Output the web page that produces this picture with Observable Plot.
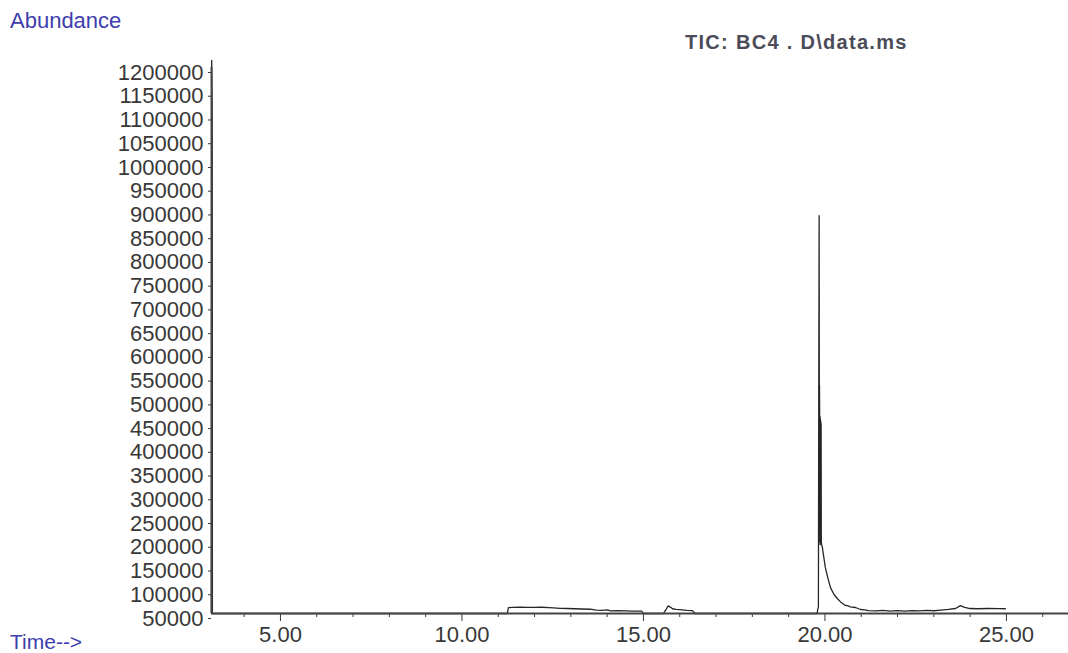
<!DOCTYPE html>
<html>
<head>
<meta charset="utf-8">
<script src="https://cdn.jsdelivr.net/npm/d3@7"></script>
<script src="https://cdn.jsdelivr.net/npm/@observablehq/plot@0.6"></script>
<style>
  html, body { margin: 0; padding: 0; background: #fff; }
  #wrap { position: relative; width: 1068px; height: 653px; overflow: hidden; }
  .lbl { position: absolute; white-space: nowrap; line-height: 1; font-family: "Liberation Sans", Arial, sans-serif; }
  #ylab { left: 10px; top: 10px; font-size: 22px; color: #3d3dae; }
  #xlab { left: 10px; top: 631px; font-size: 21px; color: #3d3dae; }
  #title { left: 685px; top: 32px; font-size: 20px; font-weight: bold; color: #4c4c58; letter-spacing: 1.3px; }
</style>
</head>
<body>
<div id="wrap">
  <div id="chart"></div>
  <div class="lbl" id="ylab">Abundance</div>
  <div class="lbl" id="xlab">Time--&gt;</div>
  <div class="lbl" id="title">TIC: BC4 . D\data.ms</div>
</div>
<script>
// Retention time (min)
const times = [
  3.10, 3.105, 3.115, 3.12, 3.125,
  11.25, 11.28, 11.4, 11.6, 11.8, 12.0, 12.2, 12.4, 12.52, 12.7, 12.9, 13.1, 13.3, 13.54,
  13.7, 13.85, 14.0, 14.1, 14.3, 14.5, 14.7, 14.95, 15.0,
  15.55, 15.62, 15.68, 15.75, 15.8, 15.9, 16.0, 16.2, 16.35, 16.42,
  19.78, 19.79, 19.80, 19.82, 19.83, 19.84, 19.845, 19.85, 19.855, 19.86, 19.865, 19.87,
  19.875, 19.88, 19.885, 19.89, 19.895, 19.90, 19.91, 19.93, 19.97,
  20.01, 20.08, 20.15, 20.25, 20.34, 20.45, 20.56, 20.62, 20.7, 20.84, 20.98,
  21.1, 21.2, 21.4, 21.6, 21.8, 22.0, 22.2, 22.4, 22.6, 22.8, 23.0, 23.2, 23.4, 23.6,
  23.73, 23.85, 24.0, 24.2, 24.5, 24.8, 24.97
];
// Abundance (TIC)
const abundance = [
  50000, 1215000, 1140000, 1100000, 50000,
  50000, 62500, 63000, 63500, 63000, 62800, 63200, 62500, 62000, 61000, 60500, 60000, 59500, 59000,
  57000, 56500, 57500, 55500, 56000, 55500, 55000, 55000, 50000,
  50000, 58000, 66000, 63000, 60000, 58500, 58000, 56500, 56000, 50000,
  50000, 53000, 58000, 64000, 530000, 888000, 470000, 530000, 460000, 200000, 465000, 195000,
  460000, 200000, 455000, 198000, 450000, 200000, 195000, 189000, 168000,
  147000, 125000, 105000, 90000, 81600, 73000, 67000, 66500, 64000, 62600, 58400,
  57500, 56000, 55500, 56500, 55000, 56000, 55200, 56200, 55500, 56500, 55800, 57000, 58500, 60500,
  66500, 63000, 60500, 60000, 60500, 60200, 60000
];
const yTicks = [50000, 100000, 150000, 200000, 250000, 300000, 350000, 400000, 450000, 500000,
  550000, 600000, 650000, 700000, 750000, 800000, 850000, 900000, 950000, 1000000,
  1050000, 1100000, 1150000, 1200000];
const xMajor = [5, 10, 15, 20, 25];
const xMinor = [4, 6, 7, 8, 9, 11, 12, 13, 14, 16, 17, 18, 19, 21, 22, 23, 24, 26];
const xDomain = [3.1, 26.71];
const yDomain = [50000, 1200000];

const data = times.map((t, i) => ({t, v: abundance[i]}));

const chart = Plot.plot({
  width: 1068,
  height: 653,
  marginLeft: 211,
  marginRight: 0,
  marginTop: 67,
  marginBottom: 40,
  x: {domain: xDomain},
  y: {domain: yDomain},
  style: {fontFamily: "'Liberation Sans', Arial, sans-serif", color: "#383838", background: "transparent"},
  marks: [
    Plot.axisY({ticks: yTicks, tickSize: 3, tickPadding: 5, tickFormat: d => String(d), fontSize: 22, dy: 5, label: null}),
    Plot.axisX({ticks: xMinor, tickSize: 4, tickFormat: () => "", label: null}),
    Plot.axisX({ticks: xMajor, tickSize: 8, tickPadding: 5, tickFormat: d => d.toFixed(2), fontSize: 22, label: null}),
    Plot.line(data, {x: "t", y: "v", stroke: "#262626", strokeWidth: 1.3}),
    Plot.ruleX([xDomain[0]], {stroke: "#444", strokeWidth: 2}),
    Plot.ruleY([yDomain[0]], {stroke: "#444", strokeWidth: 2})
  ]
});
document.getElementById("chart").appendChild(chart);
</script>
</body>
</html>
